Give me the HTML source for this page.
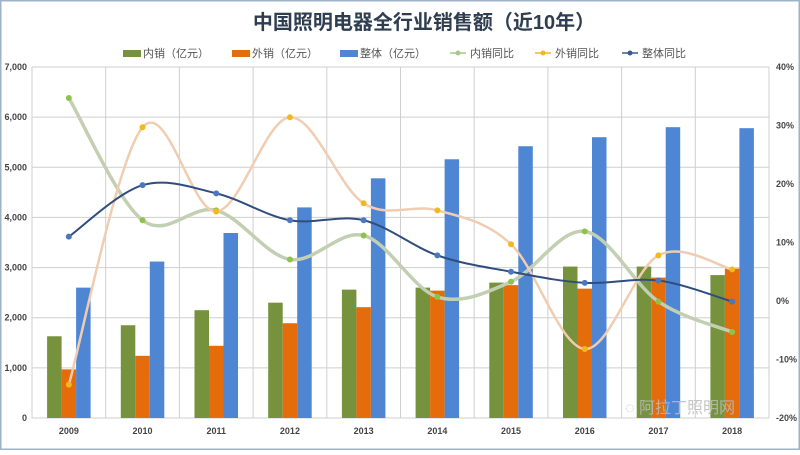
<!DOCTYPE html>
<html><head><meta charset="utf-8">
<style>
html,body{margin:0;padding:0;background:#fff;}
body{width:800px;height:450px;overflow:hidden;font-family:"Liberation Sans","Noto Sans CJK SC",sans-serif;}
</style></head>
<body>
<svg id="chart" width="800" height="450" xmlns="http://www.w3.org/2000/svg">
<rect x="0.5" y="0.5" width="799" height="449" fill="#fff" stroke="#9fb3c8" stroke-width="2"/>
<text x="424" y="29" text-anchor="middle" font-size="20" font-weight="bold" fill="#2e3d50" font-family="Liberation Sans,Noto Sans CJK SC,sans-serif">中国照明电器全行业销售额（近10年）</text>
<g id="legend" font-size="11" fill="#555"></g>
<g id="grid"></g>
<g id="bars"></g>
<g id="lines"></g>
<g id="axes" font-size="9" font-weight="bold" fill="#444"></g>
<text x="625" y="413" font-size="16" fill="#bbb" fill-opacity="0.85">◌ 阿拉丁照明网</text>
</svg>
<script>
const years=["2009","2010","2011","2012","2013","2014","2015","2016","2017","2018"];
const domestic=[1630,1850,2150,2300,2560,2600,2700,3020,3020,2850];
const exportSales=[970,1240,1440,1890,2210,2540,2650,2580,2800,2980];
const total=[2600,3120,3690,4200,4780,5160,5420,5600,5800,5780];
const domesticYoY=[34.7,13.8,15.5,7.1,11.2,0.7,3.3,11.9,-0.1,-5.3];
const exportYoY=[-14.3,29.7,15.3,31.4,16.7,15.5,9.7,-8.2,7.8,5.4];
const totalYoY=[11.0,19.8,18.4,13.8,13.8,7.8,5.0,3.1,3.5,-0.1];
const leftTicks=[0,1000,2000,3000,4000,5000,6000,7000];
const rightTicks=[-20,-10,0,10,20,30,40];

const NS="http://www.w3.org/2000/svg";
const L=32,R=769,T=67,B=418;
const cw=(R-L)/years.length;
const yL=v=>B-(v/7000)*(B-T);
const yR=v=>B-((v+20)/60)*(B-T);
const xC=i=>L+cw*(i+0.5);
function mk(tag,attrs,parent){const e=document.createElementNS(NS,tag);for(const k in attrs)e.setAttribute(k,attrs[k]);parent.appendChild(e);return e;}
const grid=document.getElementById('grid'),bars=document.getElementById('bars'),lines=document.getElementById('lines'),axes=document.getElementById('axes'),legend=document.getElementById('legend');
leftTicks.forEach(v=>{
  const ln=mk('line',{x1:L,x2:R,y1:yL(v),y2:yL(v),stroke:'#cfcfcf','stroke-width':1},grid);
  
  
  const t=mk('text',{x:27,y:yL(v)+3,'text-anchor':'end'},axes);t.textContent=v.toLocaleString('en-US');
  
  
});
for(let i=0;i<=years.length;i++){
  const ln=mk('line',{x1:L+cw*i,x2:L+cw*i,y1:T,y2:B,stroke:'#cfcfcf','stroke-width':1},grid);
  
  
}
rightTicks.forEach(v=>{
  const t=mk('text',{x:776,y:yR(v)+3},axes);t.textContent=v+'%';
  
  
});
const bw=14.5;
const series=[[domestic,'#76923c',-1.5],[exportSales,'#e46c0a',-0.5],[total,'#4f86d4',0.5]];
years.forEach((y,i)=>{
  series.forEach(([arr,c,off])=>{
    const r=mk('rect',{x:xC(i)+off*bw,y:yL(arr[i]),width:bw,height:B-yL(arr[i]),fill:c},bars);
    
    
  });
  const t=mk('text',{x:xC(i),y:434,'text-anchor':'middle'},axes);t.textContent=y;
  
  
});
function smooth(pts){
  let d='M'+pts[0][0]+','+pts[0][1];
  for(let i=0;i<pts.length-1;i++){
    const p0=pts[i-1]||pts[i],p1=pts[i],p2=pts[i+1],p3=pts[i+2]||p2;
    const c1=[p1[0]+(p2[0]-p0[0])/6,p1[1]+(p2[1]-p0[1])/6];
    const c2=[p2[0]-(p3[0]-p1[0])/6,p2[1]-(p3[1]-p1[1])/6];
    d+=' C'+c1+' '+c2+' '+p2;
  }
  return d;
}
const lineSeries=[[domesticYoY,'#c2cfb2','#8fc24a',3.5,'domestic-yoy-line'],[exportYoY,'#f0cdb0','#f2b81e',2.5,'export-yoy-line'],[totalYoY,'#2f4d7e','#4a78c0',2,'total-yoy-line']];
lineSeries.forEach(([arr,c,mc,w,name])=>{
  const pts=arr.map((v,i)=>[xC(i),yR(v)]);
  const p=mk('path',{d:smooth(pts),fill:'none',stroke:c,'stroke-width':w},lines);
  
  
  pts.forEach(pt=>{
    const m=mk('circle',{cx:pt[0],cy:pt[1],r:3,fill:mc},lines);
    
    
  });
});
const legItems=[['rect','#76923c','内销（亿元）',123],['rect','#e46c0a','外销（亿元）',232],['rect','#4f86d4','整体（亿元）',340],['line','#a8c98a','内销同比',450],['line','#f2b81e','外销同比',535],['line','#3a5a90','整体同比',622]];
legItems.forEach(([k,c,label,x])=>{
  if(k==='rect'){const r=mk('rect',{x:x,y:50,width:18,height:7,fill:c},legend);}
  else{const l=mk('line',{x1:x,x2:x+16,y1:53,y2:53,stroke:c,'stroke-width':1.5},legend);
    const m=mk('circle',{cx:x+8,cy:53,r:2.5,fill:c},legend);}
  const t=mk('text',{x:x+20,y:57},legend);t.textContent=label;
  
  
});
</script>
</body></html>
